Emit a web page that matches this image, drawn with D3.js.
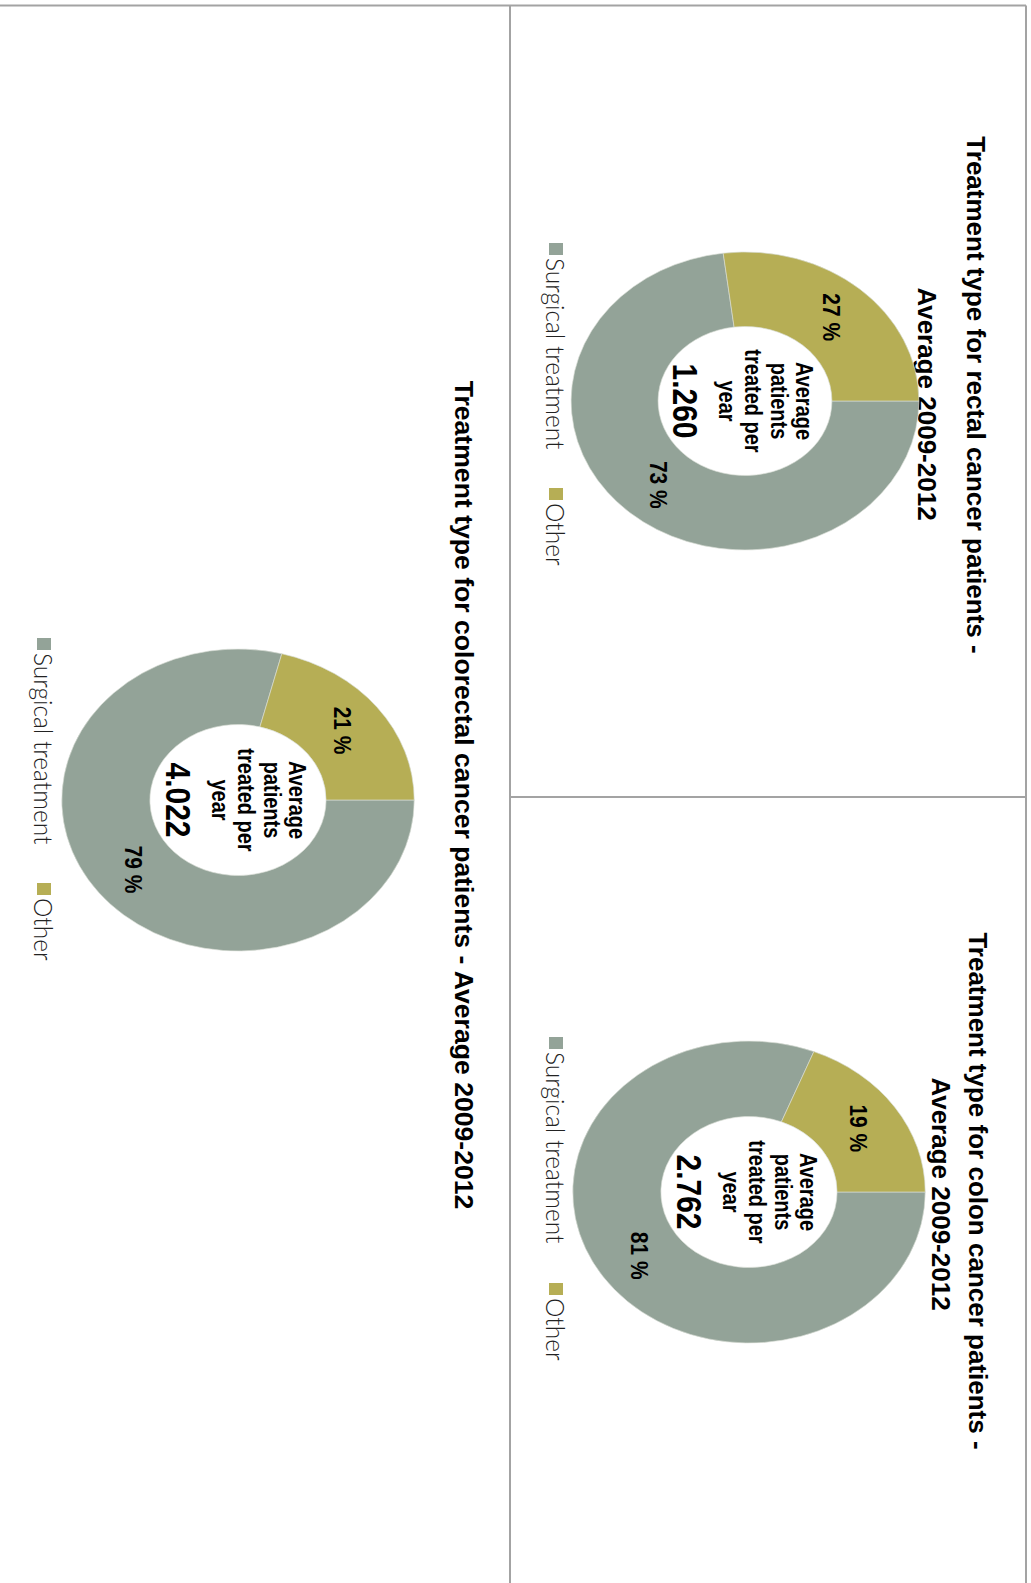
<!DOCTYPE html>
<html>
<head>
<meta charset="utf-8">
<script src="https://cdn.jsdelivr.net/npm/d3@7"></script>
<style>
  body { margin: 0; background: #fff; }
  svg { display: block; }
</style>
</head>
<body>
<svg id="chart" width="1031" height="1583"></svg>
<script>
// data
var titles = [
  ["Treatment type for rectal cancer patients -", "Average 2009-2012"],
  ["Treatment type for colon cancer patients -", "Average 2009-2012"],
  ["Treatment type for colorectal cancer patients - Average 2009-2012"]
];
var categories = ["Surgical treatment", "Other"];
var surgicalShare = [73, 81, 79];
var otherShare = [27, 19, 21];
var avgPatients = ["1.260", "2.762", "4.022"];
var centerLines = ["Average", "patients", "treated per", "year"];
var colors = ["#93a398", "#b6ae55"];

// layout, in the unrotated frame (u across, v down), page is turned 90deg
var stretch = 1.167;
var panels = [
  {cx: 401, cy: 286, r: 149, titleSize: 26, title: [[395, 64], [404, 113]], legend: [243, 488], legendV: 468},
  {cx: 1192, cy: 282, r: 151, titleSize: 26, title: [[1191, 62], [1194, 99]], legend: [1037, 1283], legendV: 468},
  {cx: 800, cy: 793, r: 151, titleSize: 26.6, title: [[795, 576]], legend: [638, 883], legendV: 980}
];

var svg = d3.select("#chart");
var frame = svg.append("g").attr("transform", "translate(1031,0) rotate(90)");

// panel borders
var borders = [
  [5.5, 5, 5.5, 1031],
  [5.5, 5, 1583, 5],
  [5.5, 521, 1583, 521],
  [797, 5, 797, 521]
];
frame.selectAll("line.border").data(borders).enter().append("line")
  .attr("class", "border")
  .attr("x1", function(d){ return d[0]; })
  .attr("y1", function(d){ return d[1]; })
  .attr("x2", function(d){ return d[2]; })
  .attr("y2", function(d){ return d[3]; })
  .attr("stroke", "#a3a3a3")
  .attr("stroke-width", 2);

var pie = d3.pie().sort(null).value(function(d){ return d; });

panels.forEach(function(p, i){
  var g = frame.append("g");
  var arc = d3.arc().innerRadius(p.r * 0.5).outerRadius(p.r);

  g.selectAll("text.title").data(titles[i]).enter().append("text")
    .attr("class", "title")
    .attr("x", function(d, j){ return p.title[j][0]; })
    .attr("y", function(d, j){ return p.title[j][1]; })
    .attr("text-anchor", "middle")
    .attr("font-family", "'Liberation Sans', Arial, sans-serif")
    .attr("font-weight", "bold")
    .attr("font-size", p.titleSize)
    .attr("fill", "#000")
    .text(function(d){ return d; });

  var donut = g.append("g")
    .attr("transform", "translate(" + p.cx + "," + p.cy + ") scale(1," + stretch + ")");

  var slices = pie([surgicalShare[i], otherShare[i]]);
  donut.selectAll("path").data(slices).enter().append("path")
    .attr("d", arc)
    .attr("fill", function(d, j){ return colors[j]; })
    .attr("stroke", "#d9ddd6")
    .attr("stroke-width", 0.6);

  donut.selectAll("text.pct").data(slices).enter().append("text")
    .attr("class", "pct")
    .attr("transform", function(d){ return "translate(" + arc.centroid(d) + ")"; })
    .attr("dy", "0.35em")
    .attr("text-anchor", "middle")
    .attr("font-family", "'Liberation Sans', Arial, sans-serif")
    .attr("font-weight", "bold")
    .attr("font-size", 21)
    .text(function(d){ return d.data + " %"; });

  donut.selectAll("text.center").data(centerLines).enter().append("text")
    .attr("class", "center")
    .attr("x", 0)
    .attr("y", function(d, j){ return -44 + j * 22; })
    .attr("text-anchor", "middle")
    .attr("font-family", "'Liberation Sans', Arial, sans-serif")
    .attr("font-weight", "bold")
    .attr("font-size", 20)
    .text(function(d){ return d; });

  donut.append("text")
    .attr("x", 0)
    .attr("y", 62)
    .attr("text-anchor", "middle")
    .attr("font-family", "'Liberation Sans', Arial, sans-serif")
    .attr("font-weight", "bold")
    .attr("font-size", 30)
    .text(avgPatients[i]);

  var leg = g.selectAll("g.leg").data(categories).enter().append("g")
    .attr("class", "leg")
    .attr("transform", function(d, j){ return "translate(" + p.legend[j] + "," + p.legendV + ")"; });
  leg.append("rect")
    .attr("width", 12)
    .attr("height", 14)
    .attr("fill", function(d, j){ return colors[j]; });
  leg.append("text")
    .attr("x", 15)
    .attr("y", 17)
    .attr("font-family", "Lato, 'Open Sans', sans-serif")
    .attr("font-weight", 300)
    .attr("font-size", 24.5)
    .attr("fill", "#222")
    .text(function(d){ return d; });
});
</script>
</body>
</html>
